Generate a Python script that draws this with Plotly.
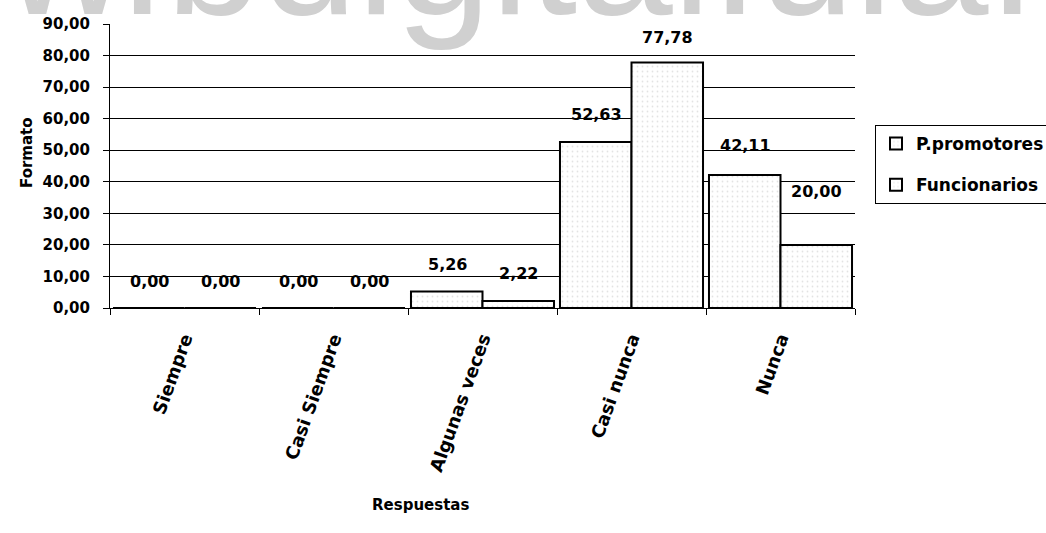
import plotly.graph_objects as go

# Survey answers (percent) per response category
categories = ["Siempre", "Casi Siempre", "Algunas veces", "Casi nunca", "Nunca"]
promotores = [0.00, 0.00, 5.26, 52.63, 42.11]
funcionarios = [0.00, 0.00, 2.22, 77.78, 20.00]
series_names = ["P.promotores", "Funcionarios"]
y_ticks = [0, 10, 20, 30, 40, 50, 60, 70, 80, 90]

FONT = "DejaVu Sans"
BOLD = dict(family=FONT, size=15, color="black", weight="bold")

fig = go.Figure()
for name, values in zip(series_names, [promotores, funcionarios]):
    fig.add_trace(go.Bar(
        name=name,
        x=categories,
        y=values,
        legendgroup=name,
        marker=dict(
            color="white",
            line=dict(color="black", width=2),
            pattern=dict(shape=".", fgcolor="#c8c8c8", bgcolor="white",
                         size=5, solidity=0.1),
        ),
    ))

annotations = []

# Repository watermark across the top edge (drawn first so labels sit on top)
annotations.append(dict(
    x=(486 - 110) / 745, y=0.9, xref="paper", yref="paper",
    text="www.bdigital.ula.ve", showarrow=False,
    xanchor="center", yanchor="bottom",
    font=dict(family="Liberation Sans", size=172, color="#d0d0d0"),
))

# Value labels above each bar (comma decimal separator)
offsets = [-35.5, 35.5]
default_lift = 27
lift_override = {("Funcionarios", "Nunca"): 53, ("P.promotores", "Nunca"): 30,
                 ("Funcionarios", "Casi nunca"): 25}
for name, values, dx in zip(series_names, [promotores, funcionarios], offsets):
    for cat, v in zip(categories, values):
        annotations.append(dict(
            x=cat, y=v, xref="x", yref="y",
            text=f"{v:.2f}".replace(".", ","),
            showarrow=False, xshift=dx,
            yshift=lift_override.get((name, cat), default_lift),
            yanchor="middle",
            font=dict(family=FONT, size=16, color="black", weight="bold"),
        ))

# Axis titles
annotations.append(dict(
    x=(420 - 110) / 745, y=-(505 - 308) / 284, xref="paper", yref="paper",
    text="Respuestas", showarrow=False, xanchor="center", yanchor="middle",
    font=BOLD,
))
annotations.append(dict(
    x=-(110 - 27) / 745, y=(308 - 153) / 284, xref="paper", yref="paper",
    text="Formato", showarrow=False, textangle=-90,
    xanchor="center", yanchor="middle", font=BOLD,
))

fig.update_layout(
    width=1046, height=533,
    margin=dict(l=110, r=191, t=24, b=225, autoexpand=False),
    paper_bgcolor="white", plot_bgcolor="white",
    separators=",.",
    barmode="group", bargap=0.04, bargroupgap=0,
    annotations=annotations,
    legend=dict(
        x=(875 - 110) / 745, xanchor="left",
        y=(308 - 125) / 284, yanchor="top",
        bordercolor="black", borderwidth=1,
        bgcolor="white",
        traceorder="grouped", tracegroupgap=16,
        font=dict(family=FONT, size=17, color="black", weight="bold"),
        itemwidth=30,
    ),
    showlegend=True,
)

fig.update_xaxes(
    type="category", categoryorder="array", categoryarray=categories,
    showline=True, linecolor="black", linewidth=1,
    ticks="outside", tickson="boundaries", ticklen=6, tickcolor="black",
    tickangle=-70, ticklabelstandoff=12,
    tickfont=dict(family=FONT, size=18, color="black", weight="bold"),
    automargin=False, showgrid=False,
)
fig.update_yaxes(
    range=[0, 90], tickvals=y_ticks, tickformat=".2f",
    showline=True, linecolor="black", linewidth=1,
    ticks="outside", ticklen=6, tickcolor="black", ticklabelstandoff=10,
    showgrid=True, gridcolor="black", gridwidth=1,
    tickfont=dict(family=FONT, size=15, color="black", weight="bold"),
    automargin=False, zeroline=False,
)

fig.write_html("out.html")
